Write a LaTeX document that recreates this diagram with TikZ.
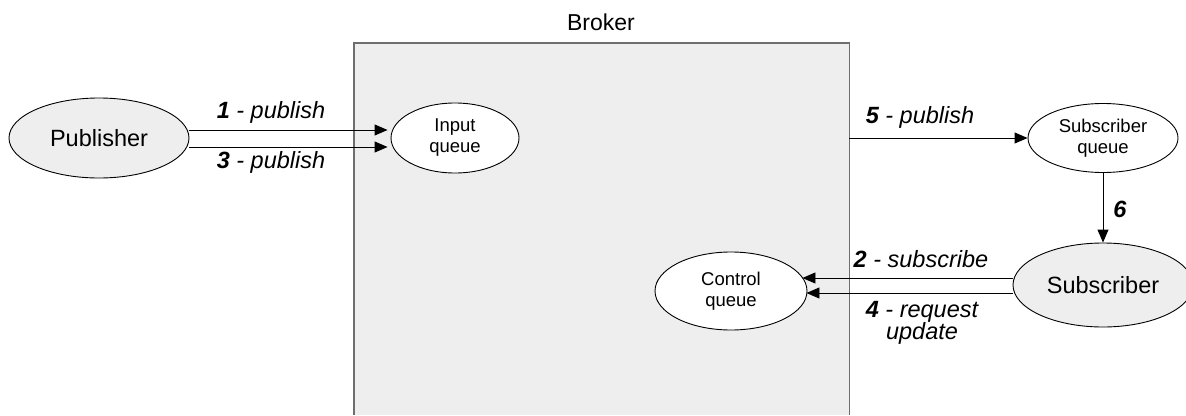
\documentclass[tikz,border=0pt]{standalone}
\usepackage{fontspec}
\setmainfont{Liberation Sans}
\usetikzlibrary{arrows.meta,shapes.geometric,calc}
\definecolor{panel}{HTML}{EEEEEE}
\definecolor{brokeredge}{HTML}{6E6E6E}
\begin{document}
\begin{tikzpicture}[x=1pt,y=-1pt,
  queuenode/.style={ellipse,draw,line width=0.9pt,inner sep=0pt,align=center,
    font=\fontsize{18.5}{21}\selectfont},
  actor/.style={ellipse,draw,fill=panel,line width=0.9pt,inner sep=0pt,
    font=\fontsize{23.5}{26}\selectfont},
  msg/.style={draw,line width=0.9pt,-{Triangle[length=13pt,width=11pt]}},
  lbl/.style={font=\fontsize{23.5}{22.5}\selectfont\itshape,align=center,inner sep=0pt}]
  \useasboundingbox (0,0) rectangle (1186,415);

  % broker area, open at the bottom
  \node[rectangle,fill=panel,draw=none,minimum width=495pt,minimum height=372pt,
        inner sep=0pt] (broker) at (601.5,229) {};
  \draw[brokeredge,line width=1.4pt]
    (broker.south west) -- (broker.north west) -- (broker.north east) -- (broker.south east);
  \node[font=\fontsize{23}{26}\selectfont,inner sep=0pt] (brokertitle) at (601,22) {Broker};

  % participants and queues
  \node[actor,minimum width=180pt,minimum height=80pt] (pub) at (99,138) {Publisher};
  \node[actor,minimum width=180pt,minimum height=84pt] (sub) at (1103,285) {Subscriber};
  \node[queuenode,fill=white,minimum width=128pt,minimum height=70pt] (inq) at (455,138) {Input\\queue};
  \node[queuenode,fill=white,minimum width=150pt,minimum height=69pt] (subq) at (1103,138) {Subscriber\\queue};
  \node[queuenode,fill=white,minimum width=152pt,minimum height=78pt] (ctl) at (731,291) {Control\\queue};

  % messages
  \draw[msg] ([yshift=8pt]pub.east) -- ([yshift=8pt,xshift=-3pt]pub.east -| inq.west);
  \draw[msg] ([yshift=-9pt]pub.east) -- ([yshift=-9pt,xshift=-3pt]pub.east -| inq.west);
  \draw[msg] (broker.east |- subq.west) -- (subq.west);
  \draw[msg] (subq.south) -- (sub.north);
  \draw[msg] ([yshift=7pt]sub.west) -- ([yshift=7pt,xshift=-5pt]sub.west -| ctl.east);
  \draw[msg] ([yshift=-8pt]sub.west) -- ([yshift=-8pt,xshift=-1pt]sub.west -| ctl.east);

  % message labels
  \node[lbl] (l1) at (271,112) {\textbf{1} - publish};
  \node[lbl] (l3) at (271,162) {\textbf{3} - publish};
  \node[lbl] (l5) at (920,117) {\textbf{5} - publish};
  \node[lbl] (l6) at (1120,209) {\textbf{6}};
  \node[lbl] (l2) at (921,259) {\textbf{2} - subscribe};
  \node[lbl] (l4) at (922,323) {\textbf{4} - request\\update};
\end{tikzpicture}
\end{document}
